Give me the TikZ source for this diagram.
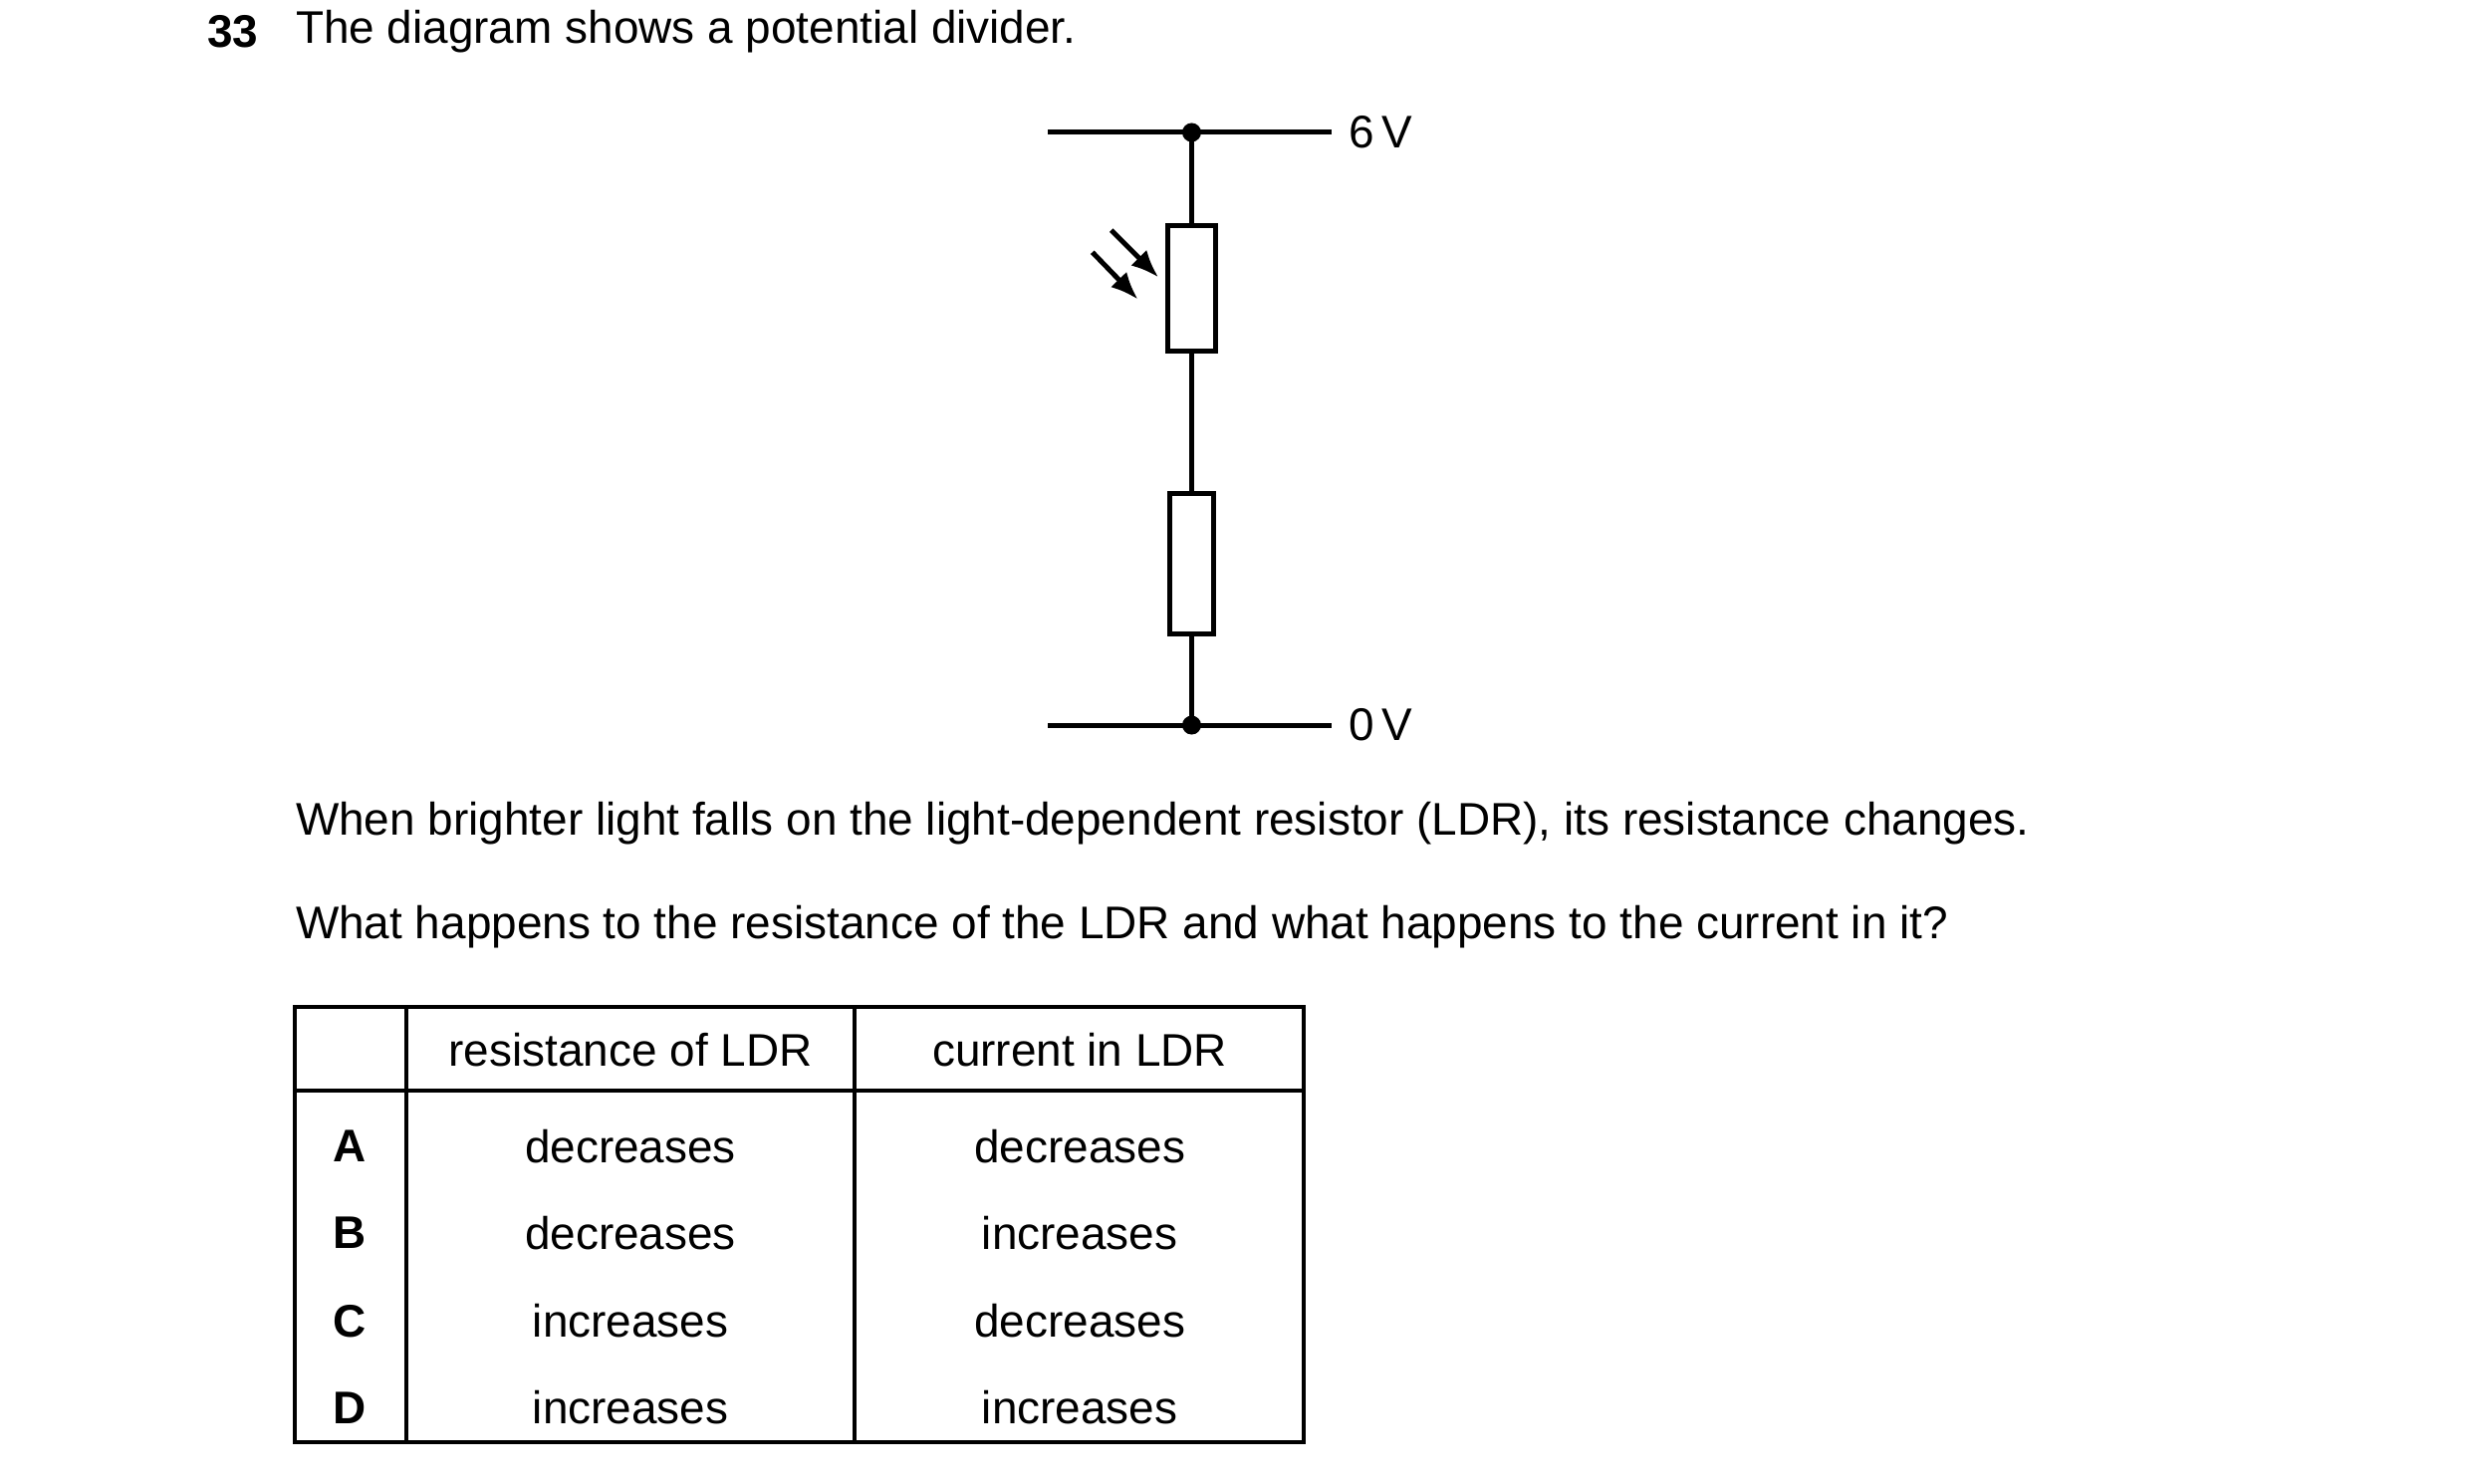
\documentclass[tikz,border=0pt]{standalone}
\usepackage{fontspec}
\setmainfont{Liberation Sans}
\usetikzlibrary{arrows.meta}
\tikzset{
  txt/.style={inner sep=0pt,font=\fontsize{8.25pt}{9pt}\selectfont},
  wire/.style={line width=0.9pt},
  comp/.style={draw,line width=0.9pt,fill=white},
  light/.style={line width=0.9pt,-{Latex[length=5pt,width=4pt]}}
}
\begin{document}
\begin{tikzpicture}[x=0.01cm,y=-0.01cm]
        \useasboundingbox (0,0) rectangle (1567,941);
        % question
        \node [txt,font=\fontsize{8.25pt}{9pt}\selectfont\bfseries,anchor=west] (num) at (131,20) {33};
        \node [txt,anchor=west] (q) at (187,20) {The diagram shows a potential divider.};
        % rails
        \coordinate (tl) at (665,84);
        \coordinate (tr) at (845,84);
        \coordinate (bl) at (665,460);
        \coordinate (br) at (845,460);
        \coordinate (tj) at (756,84);
        \coordinate (bj) at (756,460);
        \draw [wire] (tl) -- (tr);
        \draw [wire] (bl) -- (br);
        \node [txt,anchor=west] (six) at (855,84) {6\,V};
        \node [txt,anchor=west] (zero) at (855,460) {0\,V};
        % components
        \draw [comp] (741,143) rectangle (771,223);
        \coordinate (ldrt) at (756,143);
        \coordinate (ldrb) at (756,223);
        \draw [comp] (742,313) rectangle (770,402);
        \coordinate (rt) at (756,313);
        \coordinate (rb) at (756,402);
        \draw [wire] (tj) -- (ldrt);
        \draw [wire] (ldrb) -- (rt);
        \draw [wire] (rb) -- (bj);
        \fill (tj) circle (6);
        \fill (bj) circle (6);
        % light arrows
        \coordinate (a1) at (705,146);
        \coordinate (a2) at (735,176);
        \coordinate (b1) at (693,160);
        \coordinate (b2) at (722,190);
        \draw [light] (a1) -- (a2);
        \draw [light] (b1) -- (b2);
        % text
        \node [txt,anchor=west] (t1) at (187,522) {When brighter light falls on the light-dependent resistor (LDR), its resistance changes.};
        \node [txt,anchor=west] (t2) at (187,588) {What happens to the resistance of the LDR and what happens to the current in it?};
        % table
        \draw [line width=0.7pt] (187,639) rectangle (827,915);
        \draw [line width=0.7pt] (187,692) -- (827,692);
        \draw [line width=0.7pt] (258,639) -- (258,915);
        \draw [line width=0.7pt] (542,639) -- (542,915);
        \node [txt] (h1) at (400,666) {resistance of LDR};
        \node [txt] (h2) at (685,666) {current in LDR};
        \foreach \l/\r/\c/\y in {A/decreases/decreases/727,B/decreases/increases/782,C/increases/decreases/838,D/increases/increases/893}
        {
          \node [txt,font=\fontsize{8.25pt}{9pt}\selectfont\bfseries] (l\l) at (222,\y) {\l};
          \node [txt] (r\l) at (400,\y) {\r};
          \node [txt] (c\l) at (685,\y) {\c};
        }
      \end{tikzpicture}
\end{document}
